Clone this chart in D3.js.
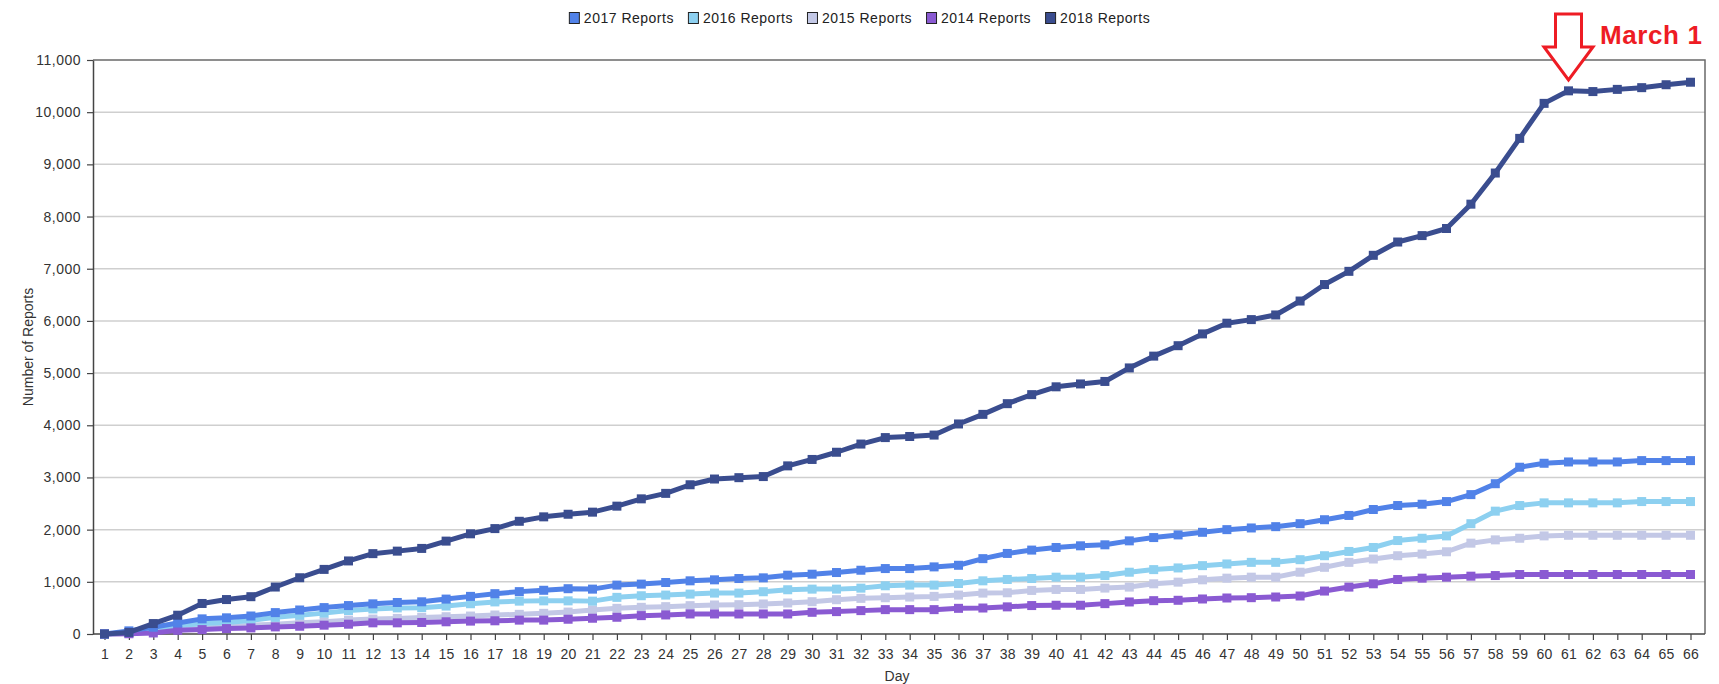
<!DOCTYPE html>
<html>
<head>
<meta charset="utf-8">
<script src="https://cdn.jsdelivr.net/npm/d3@7"></script>
<style>
  html, body { margin: 0; padding: 0; background: #fff; }
  svg { display: block; font-family: "Liberation Sans", Arial, sans-serif; }
</style>
</head>
<body>
<svg id="chart" width="1719" height="684"></svg>
<script>
// ---- data ----
const days = [1,2,3,4,5,6,7,8,9,10,11,12,13,14,15,16,17,18,19,20,21,22,23,24,25,26,27,28,29,30,31,32,33,
  34,35,36,37,38,39,40,41,42,43,44,45,46,47,48,49,50,51,52,53,54,55,56,57,58,59,60,61,62,63,64,65,66];

const reports2017 = [0,60,130,210,290,310,345,410,460,506,545,578,604,617,669,721,773,812,838,868,
  860,937,956,987,1019,1038,1063,1076,1127,1146,1178,1222,1254,1254,1286,1317,1444,
  1544,1608,1658,1690,1709,1785,1848,1899,1949,2000,2032,2057,2114,2190,2272,2386,2462,2487,2538,2671,2880,3196,3272,3297,3297,3297,3323,3323,3323];

const reports2016 = [0,20,110,160,200,220,260,320,360,400,450,480,500,505,535,580,615,630,635,635,
  630,702,733,746,765,784,784,810,848,860,860,879,924,937,937,968,1019,
  1045,1063,1089,1089,1120,1184,1234,1266,1310,1342,1373,1373,1424,1500,1582,1658,1791,1835,1880,2114,2354,2462,2513,2513,2513,2513,2538,2538,2538];

const reports2015 = [0,10,58,104,117,136,169,188,214,234,266,286,299,318,331,344,364,377,396,420,
  460,492,511,524,543,556,562,575,594,619,657,683,695,708,721,746,784,
  790,835,854,854,880,899,962,994,1038,1070,1089,1089,1184,1278,1373,1437,1500,1532,1576,1741,1804,1835,1880,1892,1892,1892,1892,1892,1892];

const reports2014 = [0,5,20,71,84,104,117,136,149,169,188,214,214,221,234,247,253,266,266,283,
  302,321,352,365,384,384,384,384,384,416,429,448,467,467,467,492,498,
  520,545,551,551,582,614,639,646,671,690,696,709,728,823,899,962,1044,1070,1089,1108,1120,1140,1140,1140,1140,1140,1140,1140,1140];

const reports2018 = [0,30,200,360,585,660,715,900,1078,1238,1400,1540,1588,1640,1780,1920,2020,2160,2245,2295,
  2335,2450,2590,2695,2860,2970,2996,3017,3222,3345,3483,3640,3764,3785,3812,4025,4209,
  4414,4587,4737,4792,4840,5099,5325,5525,5751,5956,6025,6114,6381,6697,6950,7257,7512,7635,7771,8237,8834,9498,10169,10409,10395,10437,10470,10526,10574];

const seriesNames = ["2017 Reports","2016 Reports","2015 Reports","2014 Reports","2018 Reports"];
const yTicks = [0,1000,2000,3000,4000,5000,6000,7000,8000,9000,10000,11000];
const annotationText = "March 1";
const annotationDay = 61;

// ---- styling ----
const colors = {
  "2017 Reports": "#5182e8",
  "2016 Reports": "#8dd0f0",
  "2015 Reports": "#c3c8e6",
  "2014 Reports": "#8a5ad2",
  "2018 Reports": "#3a4d8f"
};
const seriesData = {
  "2017 Reports": reports2017,
  "2016 Reports": reports2016,
  "2015 Reports": reports2015,
  "2014 Reports": reports2014,
  "2018 Reports": reports2018
};
const drawOrder = ["2015 Reports","2016 Reports","2014 Reports","2017 Reports","2018 Reports"];

const svg = d3.select("#chart");
const pLeft = 93, pRight = 1705, pTop = 60, pBottom = 634;

const x = d3.scaleLinear().domain([1, 66]).range([104.5, 1690.5]);
const y = d3.scaleLinear().domain([0, 11000]).range([pBottom, pTop]);

// gridlines
svg.append("g").selectAll("line").data(yTicks.filter(d => d > 0 && d < 11000)).join("line")
  .attr("x1", pLeft).attr("x2", pRight)
  .attr("y1", d => y(d)).attr("y2", d => y(d))
  .attr("stroke", "#cfcfcf").attr("stroke-width", 1.5);

// plot border (top & right)
svg.append("path")
  .attr("d", `M${pLeft},${pTop}H${pRight}V${pBottom}`)
  .attr("fill", "none").attr("stroke", "#6a6a6a").attr("stroke-width", 1.5);

// y axis
const yAxis = svg.append("g").attr("transform", `translate(${pLeft},0)`)
  .call(d3.axisLeft(y).tickValues(yTicks).tickFormat(d3.format(",")).tickSize(6).tickPadding(6).tickSizeOuter(0));
yAxis.select(".domain").attr("stroke", "#444").attr("stroke-width", 1.5);
yAxis.selectAll(".tick line").attr("stroke", "#444").attr("stroke-width", 1.2);
yAxis.selectAll("text").attr("font-size", 14).attr("fill", "#333").style("letter-spacing", "0.5px")
  .attr("font-family", "'Liberation Sans', Arial, sans-serif");

// x axis
const xAxis = svg.append("g").attr("transform", `translate(0,${pBottom})`)
  .call(d3.axisBottom(x).tickValues(days).tickFormat(d3.format("d")).tickSize(6).tickPadding(9).tickSizeOuter(0));
xAxis.select(".domain").attr("d", `M${pLeft},0H${pRight}`).attr("stroke", "#444").attr("stroke-width", 1.5);
xAxis.selectAll(".tick line").attr("stroke", "#444").attr("stroke-width", 1.2);
xAxis.selectAll("text").attr("font-size", 14).attr("fill", "#333").style("letter-spacing", "0.3px")
  .attr("font-family", "'Liberation Sans', Arial, sans-serif");

// axis titles
svg.append("text").attr("x", (pLeft + pRight) / 2 - 2).attr("y", 681)
  .attr("text-anchor", "middle").attr("font-size", 14).attr("fill", "#333").text("Day");
svg.append("text").attr("transform", `translate(33,${(pTop + pBottom) / 2}) rotate(-90)`)
  .attr("text-anchor", "middle").attr("font-size", 14).attr("fill", "#333").text("Number of Reports");

// series
const line = d3.line().x((d, i) => x(days[i])).y(d => y(d));
const ms = 9;
drawOrder.forEach(name => {
  const vals = seriesData[name];
  const g = svg.append("g");
  g.append("path").attr("d", line(vals)).attr("fill", "none")
    .attr("stroke", colors[name]).attr("stroke-width", 5).attr("stroke-linejoin", "round");
  g.selectAll("rect").data(vals).join("rect")
    .attr("x", (d, i) => x(days[i]) - ms / 2).attr("y", d => y(d) - ms / 2)
    .attr("width", ms).attr("height", ms).attr("fill", colors[name]);
});

// legend
const legend = svg.append("g");
let lx = 0;
seriesNames.forEach(name => {
  const it = legend.append("g").attr("transform", `translate(${lx},0)`);
  it.append("rect").attr("x", 0.5).attr("y", 12.5).attr("width", 10).attr("height", 11)
    .attr("fill", colors[name]).attr("stroke", "#222").attr("stroke-width", 1);
  const t = it.append("text").attr("x", 15).attr("y", 23).attr("font-size", 14)
    .attr("fill", "#222").style("letter-spacing", "0.5px").text(name);
  const w = t.node().getComputedTextLength();
  lx += 15 + w + 14;
});
const legendWidth = lx - 14;
legend.attr("transform", `translate(${1719 / 2 - legendWidth / 2},0)`);

// annotation arrow + text
const ax = x(annotationDay);
const arrowPts = [
  [ax - 13, 14], [ax + 13, 14], [ax + 13, 47], [ax + 24.5, 47],
  [ax, 80], [ax - 24.5, 47], [ax - 13, 47]
];
svg.append("polygon").attr("points", arrowPts.map(p => p.join(",")).join(" "))
  .attr("fill", "#fff").attr("stroke", "#ee1c24").attr("stroke-width", 3).attr("stroke-linejoin", "miter");
svg.append("text").attr("x", 1600).attr("y", 44).attr("font-size", 26).attr("font-weight", "bold")
  .attr("fill", "#ee1c24").style("letter-spacing", "0.6px").text(annotationText);
</script>
</body>
</html>
